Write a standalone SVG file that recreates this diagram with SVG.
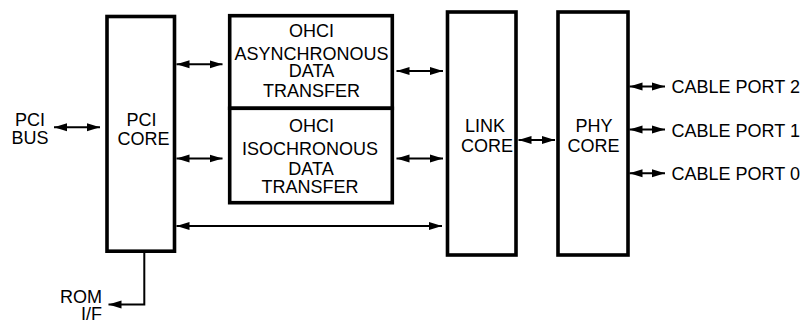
<svg xmlns="http://www.w3.org/2000/svg" width="807" height="320" viewBox="0 0 807 320">
<style>
.box{fill:#fff;stroke:#000;stroke-width:3.6}
.t{font-family:"Liberation Sans",Arial,sans-serif;font-size:18px;fill:#000;text-anchor:middle}
.l{text-anchor:start}
.r{text-anchor:end}
.c{fill:none;stroke:#000;stroke-width:2}
.a2{marker-start:url(#ah);marker-end:url(#ah)}
.a1{marker-end:url(#ah)}
</style>
<defs>
<marker id="ah" markerUnits="userSpaceOnUse" markerWidth="14" markerHeight="9" refX="13" refY="4.5" orient="auto-start-reverse" viewBox="0 0 14 9">
<path d="M0,0.5 L13,4.5 L0,8.5 Z" fill="#000"/>
</marker>
</defs>
<rect width="807" height="320" fill="#fff"/>
<g id="connectors">
<line class="c a2" x1="54" y1="127.3" x2="100" y2="127.3"/>
<line class="c a2" x1="176.5" y1="64.3" x2="222.5" y2="64.3"/>
<line class="c a2" x1="176.5" y1="158.5" x2="222.5" y2="158.5"/>
<line class="c a2" x1="396.5" y1="71" x2="443" y2="71"/>
<line class="c a2" x1="396.5" y1="158.5" x2="443" y2="158.5"/>
<line class="c a2" x1="176.5" y1="226" x2="442" y2="226"/>
<line class="c a2" x1="518.5" y1="140" x2="555" y2="140"/>
<line class="c a2" x1="629.5" y1="86.5" x2="665" y2="86.5"/>
<line class="c a2" x1="629.5" y1="129.5" x2="665" y2="129.5"/>
<line class="c a2" x1="629.5" y1="173.3" x2="665" y2="173.3"/>
<polyline class="c a1" points="144.3,252 144.3,304.5 108.5,304.5"/>
</g>
<g id="pci-bus">
<text class="t" x="30" y="126">PCI</text>
<text class="t" x="30" y="143.5">BUS</text>
</g>
<g id="pci-core">
<rect class="box" x="107" y="16.5" width="67.5" height="234.7"/>
<text class="t" x="141.5" y="125.5">PCI</text>
<text class="t" x="143.5" y="144.5">CORE</text>
</g>
<g id="ohci-async">
<rect class="box" x="229.7" y="15.7" width="162.6" height="92.6"/>
<text class="t" x="311.5" y="37.3">OHCI</text>
<text class="t" x="311.5" y="60">ASYNCHRONOUS</text>
<text class="t" x="311.5" y="77">DATA</text>
<text class="t" x="311.5" y="97.3">TRANSFER</text>
</g>
<g id="ohci-iso">
<rect class="box" x="229.7" y="108.3" width="162.6" height="94.4"/>
<text class="t" x="311.5" y="132.3">OHCI</text>
<text class="t" x="310" y="155">ISOCHRONOUS</text>
<text class="t" x="311" y="175">DATA</text>
<text class="t" x="310" y="192.7">TRANSFER</text>
</g>
<g id="link-core">
<rect class="box" x="447.5" y="12" width="68.5" height="243"/>
<text class="t" x="485" y="131.7">LINK</text>
<text class="t" x="487" y="151.7">CORE</text>
</g>
<g id="phy-core">
<rect class="box" x="558" y="12" width="70" height="243"/>
<text class="t" x="594" y="131.7">PHY</text>
<text class="t" x="593.5" y="151.7">CORE</text>
</g>
<g id="cable-ports">
<text class="t l" x="671.5" y="93.3">CABLE PORT 2</text>
<text class="t l" x="671.5" y="136.7">CABLE PORT 1</text>
<text class="t l" x="671.5" y="180">CABLE PORT 0</text>
</g>
<g id="rom-if">
<text class="t r" x="102" y="302.7">ROM</text>
<text class="t r" x="102" y="319.5">I/F</text>
</g>
</svg>
